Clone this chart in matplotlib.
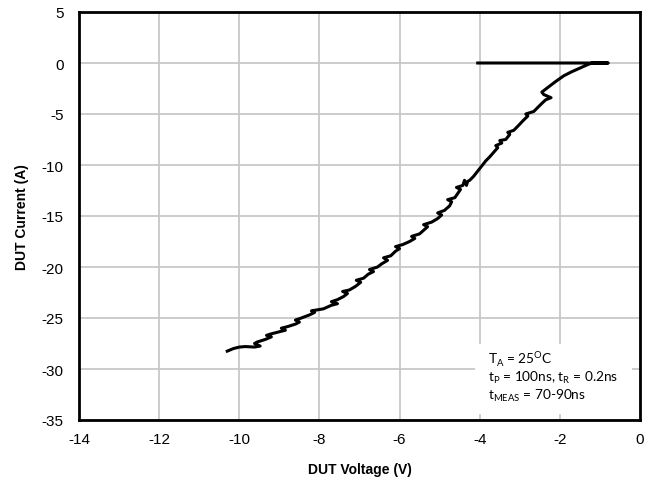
import matplotlib.pyplot as plt
from matplotlib.patches import Rectangle

# curve, going from the low end up to the top
volts = [-10.30, -10.15, -10.00, -9.85, -9.62, -9.48, -9.62, -9.55, -9.35, -9.20,
         -9.32, -9.20, -9.00, -8.85, -8.95, -8.80, -8.60, -8.50, -8.60, -8.45,
         -8.25, -8.12, -8.20, -8.05, -7.90, -7.70, -7.55, -7.70, -7.55, -7.40,
         -7.30, -7.42, -7.25, -7.10, -6.97, -7.08, -6.90, -6.78, -6.65, -6.75,
         -6.55, -6.45, -6.30, -6.40, -6.22, -6.10, -6.00, -6.10, -5.92, -5.75,
         -5.62, -5.70, -5.50, -5.40, -5.30, -5.40, -5.20, -5.05, -4.95, -5.05,
         -4.88, -4.75, -4.70, -4.80, -4.62, -4.55, -4.48, -4.58, -4.42, -4.38,
         -4.33, -4.30, -4.25, -4.15, -4.05, -3.92, -3.85, -3.75, -3.65, -3.55,
         -3.60, -3.45, -3.50, -3.35, -3.25, -3.30, -3.15, -3.05, -2.93, -2.80,
         -2.85, -2.65, -2.55, -2.42, -2.35, -2.22, -2.40, -2.45, -2.30, -2.10,
         -1.90, -1.70, -1.50, -1.30, -1.20, -0.80, -4.05]
amps = [-28.25, -28.00, -27.85, -27.80, -27.85, -27.75, -27.50, -27.35, -27.10, -26.85,
        -26.70, -26.55, -26.35, -26.20, -26.00, -25.85, -25.60, -25.40, -25.20, -25.00,
        -24.70, -24.45, -24.30, -24.20, -24.10, -23.75, -23.60, -23.40, -23.20, -22.90,
        -22.60, -22.40, -22.25, -21.90, -21.50, -21.30, -21.10, -20.70, -20.45, -20.25,
        -20.00, -19.70, -19.35, -19.10, -18.90, -18.45, -18.20, -18.00, -17.80, -17.50,
        -17.20, -17.00, -16.75, -16.40, -16.05, -15.85, -15.60, -15.25, -14.90, -14.70,
        -14.45, -14.00, -13.60, -13.40, -13.20, -12.80, -12.40, -12.20, -12.00, -11.50,
        -12.00, -11.60, -11.50, -11.10, -10.60, -9.95, -9.60, -9.20, -8.75, -8.30,
        -8.10, -7.85, -7.60, -7.50, -7.00, -6.80, -6.60, -6.20, -5.70, -5.20,
        -5.00, -4.75, -4.35, -3.85, -3.60, -3.40, -3.10, -2.85, -2.40, -1.80,
        -1.25, -0.85, -0.50, -0.15, 0.00, 0.00, 0.00]

x_ticks = [-14, -12, -10, -8, -6, -4, -2, 0]
y_ticks = [5, 0, -5, -10, -15, -20, -25, -30, -35]

plt.rcParams['font.family'] = ['Liberation Sans', 'DejaVu Sans']
plt.rcParams['axes.unicode_minus'] = False

fig = plt.figure(figsize=(6.55, 4.85), dpi=100)
ax = fig.add_axes([79 / 655, 64 / 485, 561 / 655, 408 / 485])

ax.plot(volts, amps, color='black', lw=2.2, zorder=3, solid_joinstyle='round')

ax.set_xlim(-14, 0)
ax.set_ylim(-35, 5)
ax.set_xticks(x_ticks)
ax.set_yticks(y_ticks)
ax.tick_params(length=0, labelsize=11)
ax.tick_params(axis='y', pad=11)
ax.tick_params(axis='x', pad=9)
ax.grid(True, color='#c8c8c8', lw=1.3)
ax.set_axisbelow(True)
for s in ax.spines.values():
    s.set_linewidth(2)
    s.set_color('black')
    s.set_zorder(5)

ax.set_xlabel('DUT Voltage (V)', fontsize=10, fontweight='bold', labelpad=11)
ax.set_ylabel('DUT Current (A)', fontsize=10, fontweight='bold', labelpad=9)

# white note box over the grid
ax.add_patch(Rectangle((0.706, 0.015), 0.28, 0.171, transform=ax.transAxes,
                       facecolor='white', edgecolor='none', zorder=4))
note = dict(transform=ax.transAxes, fontsize=9.8, family=['Lato', 'DejaVu Sans'],
            va='center', ha='left', zorder=6)
ax.text(0.729, 0.154, r'T$_\mathregular{A}$ = 25$^\mathregular{O}$C', **note)
ax.text(0.729, 0.105, r't$_\mathregular{P}$ = 100ns, t$_\mathregular{R}$ = 0.2ns', **note)
ax.text(0.729, 0.062, r't$_\mathregular{MEAS}$ = 70-90ns', **note)

fig.savefig('out.png', dpi=100)
